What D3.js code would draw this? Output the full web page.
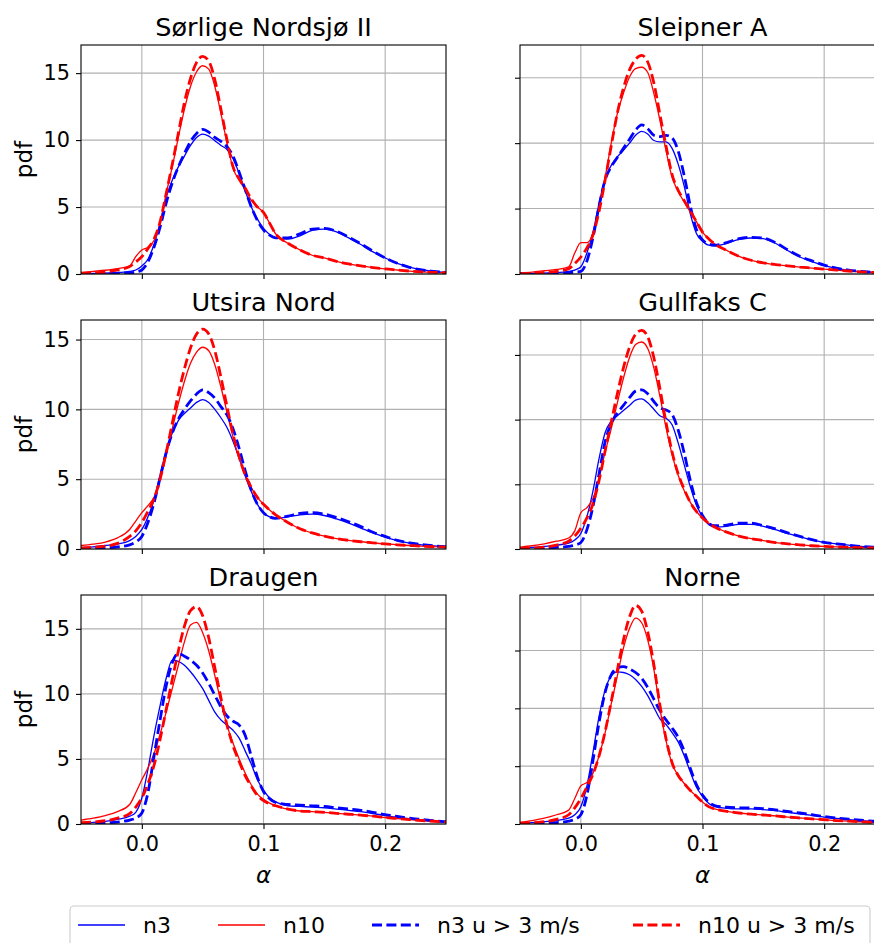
<!DOCTYPE html>
<html>
<head>
<meta charset="utf-8">
<script src="https://cdn.jsdelivr.net/npm/d3@7"></script>
<style>
    body { margin: 0; background: #fff; }
    text { font-family: "DejaVu Sans", sans-serif; fill: #000; }
</style>
</head>
<body>
<svg id="chart" width="874" height="943"></svg>
<script>
// alpha grid shared by all curves
const alpha = [-0.05, -0.04, -0.03, -0.02, -0.01, -0.005, 0, 0.005, 0.01, 0.015, 0.02, 0.025, 0.03, 0.035, 0.04, 0.045, 0.05,
    0.055, 0.06, 0.065, 0.07, 0.075, 0.08, 0.085, 0.09, 0.095, 0.1, 0.105, 0.11,
    0.12, 0.13, 0.14, 0.15, 0.16, 0.17, 0.18, 0.19, 0.2, 0.21, 0.22, 0.23, 0.24, 0.25];

// Sørlige Nordsjø II
const sorN3 = [0.05, 0.05, 0.07, 0.1, 0.2, 0.3, 0.6, 1.1, 2.2, 3.8, 5.7, 7.0, 8.0, 8.8, 9.6, 10.2, 10.45,
    10.3, 9.95, 9.6, 9.3, 8.6, 7.5, 6.2, 5.0, 4.1, 3.4, 2.95, 2.7,
    2.6, 2.85, 3.25, 3.35, 3.15, 2.7, 2.2, 1.65, 1.2, 0.8, 0.52, 0.32, 0.2, 0.12];
const sorN10 = [0.12, 0.2, 0.28, 0.4, 0.6, 1.3, 1.8, 2.0, 2.5, 3.8, 6.0, 8.0, 10.2, 12.3, 14.0, 15.1, 15.55,
    15.3, 14.0, 12.0, 9.8, 7.9, 7.0, 6.3, 5.5, 5.0, 4.6, 3.8, 3.0,
    2.3, 1.8, 1.4, 1.2, 0.95, 0.75, 0.6, 0.48, 0.38, 0.3, 0.22, 0.16, 0.12, 0.1];
const sorN3u3 = [0.02, 0.03, 0.04, 0.06, 0.1, 0.15, 0.3, 0.9, 2.0, 3.5, 5.3, 6.8, 8.0, 9.0, 9.9, 10.5, 10.8,
    10.6, 10.2, 9.9, 9.5, 8.8, 7.6, 6.3, 5.0, 4.0, 3.3, 2.9, 2.7,
    2.7, 3.0, 3.35, 3.4, 3.2, 2.75, 2.25, 1.7, 1.2, 0.8, 0.5, 0.3, 0.2, 0.12];
const sorN10u3 = [0.05, 0.08, 0.15, 0.3, 0.55, 0.9, 1.3, 1.9, 2.6, 3.9, 6.0, 8.2, 10.5, 12.8, 14.6, 15.8, 16.25,
    15.9, 14.5, 12.3, 10.0, 8.0, 7.1, 6.4, 5.6, 5.0, 4.6, 3.8, 3.0,
    2.3, 1.8, 1.4, 1.2, 0.95, 0.75, 0.6, 0.48, 0.38, 0.3, 0.22, 0.16, 0.12, 0.1];

// Sleipner A
const sleN3 = [0.03, 0.05, 0.07, 0.1, 0.2, 0.3, 0.55, 1.6, 3.2, 5.4, 7.3, 8.3, 8.95, 9.45, 10.0, 10.6, 10.9,
    10.7, 10.2, 10.1, 10.1, 9.6, 8.4, 6.7, 4.6, 3.1, 2.5, 2.2, 2.15,
    2.35, 2.65, 2.75, 2.7, 2.35, 1.8, 1.3, 0.95, 0.65, 0.42, 0.28, 0.18, 0.12, 0.08];
const sleN10 = [0.1, 0.15, 0.25, 0.35, 0.55, 1.6, 2.4, 2.4, 3.1, 5.1, 7.4, 10.0, 12.25, 13.8, 15.05, 15.7, 15.8,
    15.4, 13.8, 11.75, 9.45, 7.4, 6.3, 5.5, 4.75, 4.0, 3.2, 2.7, 2.3,
    1.8, 1.35, 1.05, 0.85, 0.72, 0.62, 0.53, 0.45, 0.37, 0.3, 0.23, 0.17, 0.12, 0.08];
const sleN3u3 = [0.01, 0.02, 0.03, 0.05, 0.1, 0.15, 0.2, 1.0, 2.8, 5.2, 7.2, 8.2, 8.9, 9.6, 10.3, 11.0, 11.4,
    11.1, 10.6, 10.5, 10.6, 10.4, 9.4, 7.5, 5.2, 3.4, 2.6, 2.3, 2.2,
    2.4, 2.7, 2.8, 2.75, 2.4, 1.85, 1.35, 1.0, 0.68, 0.45, 0.3, 0.2, 0.13, 0.08];
const sleN10u3 = [0.03, 0.05, 0.1, 0.2, 0.4, 0.8, 1.3, 2.0, 3.0, 4.8, 7.2, 9.8, 12.3, 14.2, 15.6, 16.4, 16.7,
    16.2, 14.6, 12.2, 9.8, 7.6, 6.4, 5.6, 4.8, 4.0, 3.2, 2.7, 2.3,
    1.8, 1.35, 1.05, 0.85, 0.72, 0.62, 0.53, 0.45, 0.37, 0.3, 0.23, 0.17, 0.12, 0.08];

// Utsira Nord
const utsN3 = [0.1, 0.15, 0.25, 0.35, 0.6, 0.9, 1.4, 2.3, 3.5, 5.3, 7.0, 8.3, 9.2, 9.7, 10.1, 10.5, 10.7,
    10.5, 10.0, 9.4, 8.7, 7.7, 6.5, 5.2, 4.1, 3.2, 2.6, 2.3, 2.2,
    2.3, 2.45, 2.5, 2.4, 2.15, 1.85, 1.5, 1.15, 0.85, 0.6, 0.42, 0.3, 0.22, 0.15];
const utsN10 = [0.25, 0.35, 0.5, 0.8, 1.4, 2.0, 2.6, 3.1, 3.7, 5.0, 6.7, 8.6, 10.4, 12.0, 13.3, 14.1, 14.45,
    14.2, 13.2, 11.6, 9.8, 8.0, 6.5, 5.3, 4.4, 3.7, 3.2, 2.8, 2.45,
    1.9, 1.45, 1.15, 0.92, 0.75, 0.62, 0.52, 0.44, 0.36, 0.3, 0.25, 0.2, 0.17, 0.14];
const utsN3u3 = [0.03, 0.05, 0.08, 0.15, 0.3, 0.5, 0.9, 1.9, 3.3, 5.1, 6.9, 8.3, 9.3, 10.0, 10.6, 11.1, 11.4,
    11.2, 10.8, 10.2, 9.6, 8.6, 7.2, 5.6, 4.2, 3.2, 2.6, 2.3, 2.2,
    2.35, 2.55, 2.6, 2.5, 2.25, 1.95, 1.6, 1.2, 0.9, 0.62, 0.44, 0.32, 0.23, 0.16];
const utsN10u3 = [0.08, 0.12, 0.2, 0.4, 0.9, 1.3, 1.9, 2.7, 3.6, 5.0, 6.9, 9.0, 11.1, 12.9, 14.4, 15.4, 15.75,
    15.4, 14.2, 12.3, 10.2, 8.2, 6.6, 5.3, 4.4, 3.7, 3.2, 2.8, 2.45,
    1.9, 1.45, 1.15, 0.92, 0.75, 0.62, 0.52, 0.44, 0.36, 0.3, 0.25, 0.2, 0.17, 0.14];

// Gullfaks C
const gulN3 = [0.08, 0.12, 0.2, 0.3, 0.45, 0.7, 1.2, 2.5, 4.5, 7.0, 9.0, 9.9, 10.3, 10.7, 11.1, 11.5, 11.6,
    11.3, 10.8, 10.3, 10.1, 9.6, 8.2, 6.5, 4.8, 3.4, 2.5, 1.9, 1.7,
    1.75, 1.9, 1.9, 1.75, 1.5, 1.2, 0.95, 0.7, 0.5, 0.4, 0.3, 0.2, 0.15, 0.1];
const gulN10 = [0.15, 0.25, 0.4, 0.6, 0.85, 1.4, 2.8, 3.2, 3.9, 5.5, 7.5, 9.3, 11.3, 13.2, 14.8, 15.8, 16.0,
    15.5, 14.0, 11.8, 9.4, 7.3, 5.7, 4.5, 3.6, 2.9, 2.4, 2.0, 1.7,
    1.3, 1.0, 0.8, 0.65, 0.5, 0.4, 0.32, 0.25, 0.2, 0.16, 0.13, 0.1, 0.08, 0.06];
const gulN3u3 = [0.02, 0.04, 0.07, 0.12, 0.2, 0.3, 0.5, 1.5, 3.3, 5.8, 8.3, 9.7, 10.5, 11.1, 11.7, 12.2, 12.3,
    12.0, 11.4, 10.9, 10.75, 10.4, 9.2, 7.4, 5.3, 3.6, 2.6, 2.0, 1.8,
    1.85, 2.0, 2.0, 1.8, 1.55, 1.25, 0.97, 0.72, 0.52, 0.4, 0.3, 0.2, 0.15, 0.1];
const gulN10u3 = [0.05, 0.08, 0.15, 0.3, 0.6, 1.0, 1.6, 2.4, 3.5, 5.3, 7.6, 9.8, 12.0, 14.0, 15.6, 16.6, 16.9,
    16.4, 14.8, 12.4, 9.8, 7.5, 5.8, 4.6, 3.6, 2.9, 2.4, 2.0, 1.7,
    1.3, 1.0, 0.8, 0.65, 0.5, 0.4, 0.32, 0.25, 0.2, 0.16, 0.13, 0.1, 0.08, 0.06];

// Draugen
const draN3 = [0.08, 0.12, 0.2, 0.35, 0.6, 0.9, 2.0, 4.2, 6.8, 9.1, 11.2, 12.6, 12.5, 12.2, 11.7, 11.1, 10.4,
    9.5, 8.6, 8.0, 7.6, 7.2, 6.6, 5.6, 4.6, 3.4, 2.6, 2.0, 1.7,
    1.4, 1.35, 1.3, 1.25, 1.15, 1.05, 0.95, 0.8, 0.65, 0.52, 0.4, 0.3, 0.22, 0.15];
const draN10 = [0.3, 0.45, 0.65, 0.95, 1.5, 2.4, 3.4, 4.3, 5.4, 6.9, 8.6, 10.4, 12.2, 14.0, 15.3, 15.5, 14.7,
    13.3, 11.4, 9.4, 7.6, 6.2, 5.0, 3.9, 3.0, 2.3, 1.9, 1.6, 1.4,
    1.15, 1.0, 0.95, 0.9, 0.82, 0.75, 0.68, 0.6, 0.5, 0.42, 0.34, 0.27, 0.21, 0.16];
const draN3u3 = [0.03, 0.05, 0.08, 0.15, 0.3, 0.45, 0.85, 2.4, 5.2, 8.0, 10.6, 12.4, 13.1, 12.9, 12.6, 12.2, 11.6,
    10.8, 9.9, 9.0, 8.3, 7.9, 7.6, 6.8, 5.2, 3.6, 2.5, 1.95, 1.65,
    1.5, 1.45, 1.4, 1.35, 1.25, 1.15, 1.05, 0.9, 0.72, 0.58, 0.45, 0.35, 0.25, 0.18];
const draN10u3 = [0.1, 0.15, 0.25, 0.45, 0.8, 1.3, 2.0, 3.1, 4.5, 6.5, 8.8, 11.1, 13.3, 15.2, 16.4, 16.7, 16.0,
    14.3, 12.0, 9.7, 7.6, 6.0, 4.8, 3.7, 2.9, 2.2, 1.8, 1.55, 1.4,
    1.15, 1.0, 0.95, 0.9, 0.82, 0.75, 0.68, 0.6, 0.5, 0.42, 0.34, 0.27, 0.21, 0.16];

// Norne
const norN3 = [0.08, 0.12, 0.2, 0.3, 0.5, 0.8, 1.5, 3.3, 6.2, 9.3, 11.6, 12.8, 13.15, 13.1, 12.9, 12.5, 11.9,
    11.1, 10.1, 9.1, 8.6, 7.9, 7.1, 5.9, 4.5, 3.2, 2.4, 1.8, 1.5,
    1.35, 1.3, 1.3, 1.25, 1.15, 1.0, 0.88, 0.75, 0.6, 0.48, 0.38, 0.3, 0.22, 0.16];
const norN10 = [0.15, 0.3, 0.5, 0.8, 1.2, 2.2, 3.3, 3.6, 4.4, 5.9, 7.9, 10.4, 12.8, 15.2, 16.9, 17.8, 17.4,
    15.9, 13.4, 10.0, 7.2, 5.2, 4.2, 3.5, 2.9, 2.4, 1.9, 1.5, 1.3,
    1.1, 0.95, 0.85, 0.78, 0.7, 0.6, 0.52, 0.44, 0.37, 0.3, 0.24, 0.19, 0.15, 0.12];
const norN3u3 = [0.02, 0.04, 0.07, 0.12, 0.25, 0.4, 0.8, 2.5, 5.5, 8.8, 11.4, 12.9, 13.5, 13.6, 13.4, 13.1, 12.6,
    11.8, 10.8, 9.8, 9.0, 8.3, 7.5, 6.3, 4.8, 3.4, 2.5, 1.9, 1.6,
    1.45, 1.4, 1.38, 1.32, 1.22, 1.08, 0.95, 0.8, 0.65, 0.52, 0.42, 0.33, 0.25, 0.18];
const norN10u3 = [0.05, 0.1, 0.2, 0.4, 0.8, 1.4, 2.2, 3.2, 4.3, 5.9, 8.0, 10.6, 13.3, 15.9, 17.9, 18.9, 18.4,
    16.6, 13.8, 10.3, 7.4, 5.3, 4.2, 3.5, 2.9, 2.4, 1.9, 1.5, 1.3,
    1.1, 0.95, 0.85, 0.78, 0.7, 0.6, 0.52, 0.44, 0.37, 0.3, 0.24, 0.19, 0.15, 0.12];

const siteNames = ['Sørlige Nordsjø II', 'Sleipner A', 'Utsira Nord', 'Gullfaks C', 'Draugen', 'Norne'];
const siteCurves = [
    [sorN3, sorN10, sorN3u3, sorN10u3],
    [sleN3, sleN10, sleN3u3, sleN10u3],
    [utsN3, utsN10, utsN3u3, utsN10u3],
    [gulN3, gulN10, gulN3u3, gulN10u3],
    [draN3, draN10, draN3u3, draN10u3],
    [norN3, norN10, norN3u3, norN10u3]
];
const yTop = [17.1, 17.5, 16.4, 17.7, 17.6, 19.8];
const xTicks = [0, 0.1, 0.2];
const yTicks = [0, 5, 10, 15];
const seriesLabels = ['n3', 'n10', 'n3 u > 3 m/s', 'n10 u > 3 m/s'];

// line styles, same order as seriesLabels
const seriesStyle = [
    {color: '#0000ff', width: 1.3, dash: null},
    {color: '#ff0000', width: 1.3, dash: null},
    {color: '#0000ff', width: 2.8, dash: '10,4.4'},
    {color: '#ff0000', width: 2.8, dash: '10,4.4'}
];

// layout
const colLeft = [81, 520];
const rowTop = [45, 320, 595];
const plotW = 365;
const plotH = 229;
const tickFont = '20.8px';
const labelFont = '23px';
const legendX = [78, 218, 372, 633];

const svg = d3.select('#chart');

siteNames.forEach((name, i) => {
    const col = i % 2;
    const row = Math.floor(i / 2);
    const g = svg.append('g')
        .attr('transform', `translate(${colLeft[col]},${rowTop[row]})`);

    const x = d3.scaleLinear().domain([-0.05, 0.25]).range([0, plotW]);
    const y = d3.scaleLinear().domain([0, yTop[i]]).range([plotH, 0]);

    // grid
    g.selectAll('.gx')
        .data(xTicks)
        .enter().append('line')
        .attr('x1', d => x(d)).attr('x2', d => x(d))
        .attr('y1', 0).attr('y2', plotH)
        .attr('stroke', '#b0b0b0')
        .attr('stroke-width', 1.1);

    g.selectAll('.gy')
        .data(yTicks)
        .enter().append('line')
        .attr('x1', 0).attr('x2', plotW)
        .attr('y1', d => y(d)).attr('y2', d => y(d))
        .attr('stroke', '#b0b0b0')
        .attr('stroke-width', 1.1);

    // curves
    const clipId = `clip${i}`;
    g.append('clipPath')
        .attr('id', clipId)
        .append('rect')
        .attr('width', plotW)
        .attr('height', plotH);

    const line = d3.line()
        .x(d => x(d[0]))
        .y(d => y(d[1]))
        .curve(d3.curveMonotoneX);

    siteCurves[i].forEach((values, k) => {
        const style = seriesStyle[k];
        g.append('path')
            .datum(d3.zip(alpha, values))
            .attr('clip-path', `url(#${clipId})`)
            .attr('fill', 'none')
            .attr('stroke', style.color)
            .attr('stroke-width', style.width)
            .attr('stroke-dasharray', style.dash)
            .attr('d', line);
    });

    // axes
    const xAxis = d3.axisBottom(x)
        .tickValues(xTicks)
        .tickSize(5)
        .tickPadding(7)
        .tickFormat(row === 2 ? d3.format('.1f') : '');

    const yAxis = d3.axisLeft(y)
        .tickValues(yTicks)
        .tickSize(5)
        .tickPadding(6)
        .tickFormat(col === 0 ? d3.format('d') : '');

    const xg = g.append('g')
        .attr('transform', `translate(0,${plotH})`)
        .call(xAxis);
    const yg = g.append('g').call(yAxis);

    [xg, yg].forEach(a => {
        a.select('.domain').remove();
        a.selectAll('line').attr('stroke', '#000').attr('stroke-width', 1.1);
        a.selectAll('text')
            .style('font-family', '"DejaVu Sans", sans-serif')
            .style('font-size', tickFont)
            .attr('fill', '#000');
    });

    // frame
    g.append('rect')
        .attr('width', plotW)
        .attr('height', plotH)
        .attr('fill', 'none')
        .attr('stroke', '#000')
        .attr('stroke-width', 1.1);

    // title
    g.append('text')
        .attr('x', plotW / 2)
        .attr('y', -9)
        .attr('text-anchor', 'middle')
        .style('font-size', '25.5px')
        .text(name);

    if (col === 0) {
        g.append('text')
            .attr('transform', `translate(${-49},${plotH / 2}) rotate(-90)`)
            .attr('text-anchor', 'middle')
            .style('font-size', labelFont)
            .text('pdf');
    }

    if (row === 2) {
        g.append('text')
            .attr('x', plotW / 2)
            .attr('y', plotH + 59)
            .attr('text-anchor', 'middle')
            .style('font-size', labelFont)
            .style('font-style', 'italic')
            .text('α');
    }
});

// Legend
const legend = svg.append('g');

legend.append('rect')
    .attr('x', 70)
    .attr('y', 906)
    .attr('width', 800)
    .attr('height', 60)
    .attr('rx', 4)
    .attr('fill', '#fff')
    .attr('stroke', '#cccccc')
    .attr('stroke-width', 1.1);

seriesLabels.forEach((label, k) => {
    const style = seriesStyle[k];
    legend.append('line')
        .attr('x1', legendX[k]).attr('x2', legendX[k] + 47)
        .attr('y1', 925).attr('y2', 925)
        .attr('stroke', style.color)
        .attr('stroke-width', style.width)
        .attr('stroke-dasharray', style.dash);

    legend.append('text')
        .attr('x', legendX[k] + 65)
        .attr('y', 933)
        .style('font-size', '22px')
        .text(label);
});
</script>
</body>
</html>
